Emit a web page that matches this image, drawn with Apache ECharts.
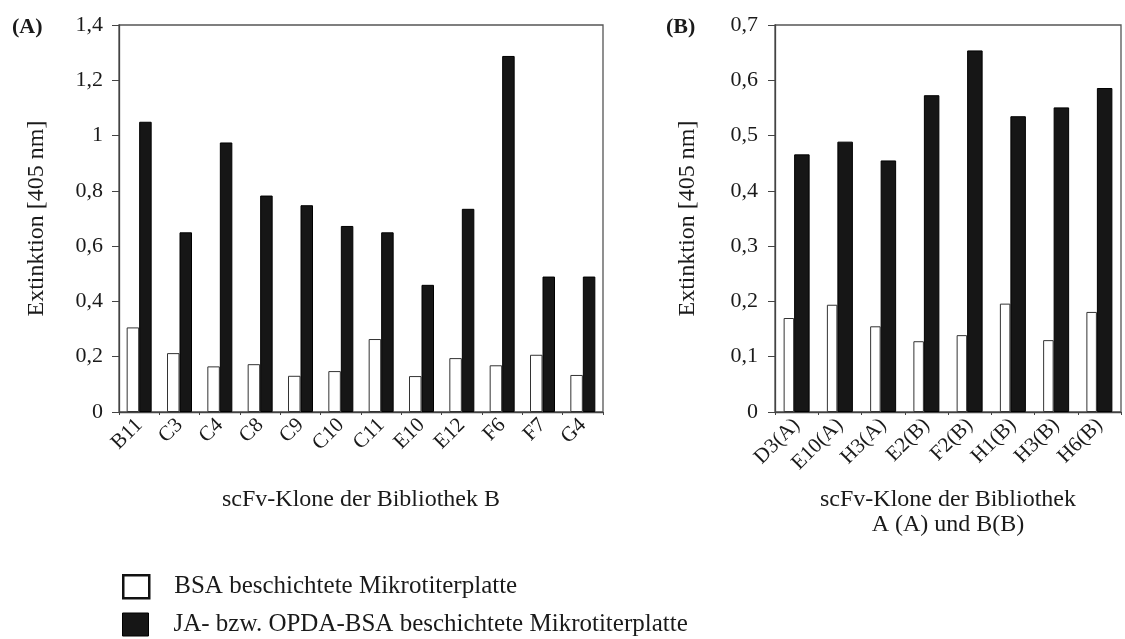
<!DOCTYPE html>
<html>
<head>
<meta charset="utf-8">
<script src="https://cdn.jsdelivr.net/npm/echarts@6/dist/echarts.min.js"></script>
<style>
html,body{margin:0;padding:0;background:#fff;}
#c{width:1125px;height:639px;}
</style>
</head>
<body>
<div id="c"></div>
<script>
// Panel A data
const catsA = ['B11','C3','C4','C8','C9','C10','C11','E10','E12','F6','F7','G4'];
const bsaA  = [0.306,0.213,0.165,0.173,0.131,0.148,0.264,0.130,0.195,0.169,0.207,0.134];
const conjA = [1.05,0.65,0.975,0.783,0.748,0.673,0.65,0.46,0.735,1.288,0.49,0.49];
// Panel B data
const catsB = ['D3(A)','E10(A)','H3(A)','E2(B)','F2(B)','H1(B)','H3(B)','H6(B)'];
const bsaB  = [0.170,0.194,0.155,0.128,0.139,0.196,0.130,0.181];
const conjB = [0.466,0.489,0.455,0.573,0.654,0.535,0.551,0.586];

const seriesNames = ['BSA beschichtete Mikrotiterplatte','JA- bzw. OPDA-BSA beschichtete Mikrotiterplatte'];
const yName = 'Extinktion [405 nm]';
const xNameA = 'scFv-Klone der Bibliothek B';
const xNameB = 'scFv-Klone der Bibliothek\nA (A) und B(B)';

const FONT = "'Liberation Serif','Times New Roman',serif";
const fmt = v => String(+v.toFixed(2)).replace('.', ',');

const chart = echarts.init(document.getElementById('c'), null, {renderer:'canvas'});

function xAxisDef(idx, cats, name){
  return {
    type:'category', gridIndex:idx, data:cats,
    name:name, nameLocation:'middle', nameGap:75,
    nameTextStyle:{fontFamily:FONT, fontSize:24, color:'#1a1a1a', lineHeight:25},
    axisLine:{lineStyle:{color:'#444', width:1.3}},
    axisTick:{show:true, length:3, lineStyle:{color:'#444'}},
    axisLabel:{interval:0, rotate:45, margin:10, fontFamily:FONT, fontSize:21, color:'#1a1a1a'},
    splitLine:{show:false}
  };
}
function yAxisDef(idx, max, interval, gap, margin){
  return {
    type:'value', gridIndex:idx, min:0, max:max, interval:interval,
    name:yName, nameLocation:'middle', nameGap:gap, nameRotate:90,
    nameTextStyle:{fontFamily:FONT, fontSize:24, color:'#1a1a1a'},
    axisLine:{show:true, lineStyle:{color:'#444', width:1.3}},
    axisTick:{show:true, length:7, lineStyle:{color:'#444'}},
    axisLabel:{margin:margin, fontFamily:FONT, fontSize:22, color:'#1a1a1a', formatter:fmt},
    splitLine:{show:false}
  };
}
const whiteStyle = {color:'#ffffff', borderColor:'#333', borderWidth:1};
const blackStyle = {color:'#161616', borderColor:'#000', borderWidth:1};

function legendDef(top, item){
  return {
    orient:'vertical', left:117, top:top, itemWidth:26, itemHeight:23,
    icon:'rect', selectedMode:false,
    textStyle:{fontFamily:FONT, fontSize:25, color:'#1a1a1a', padding:[0,0,0,20]},
    data:[item]
  };
}

chart.setOption({
  animation:false,
  backgroundColor:'#fff',
  grid:[
    {left:119, top:25, width:484, height:387, show:true, borderColor:'#555', borderWidth:1.3, backgroundColor:'transparent'},
    {left:775, top:25, width:346, height:387, show:true, borderColor:'#555', borderWidth:1.3, backgroundColor:'transparent'}
  ],
  xAxis:[xAxisDef(0, catsA, xNameA), xAxisDef(1, catsB, xNameB)],
  yAxis:[yAxisDef(0, 1.4, 0.2, 70, 16), yAxisDef(1, 0.7, 0.1, 75, 17)],
  legend:[
    legendDef(569, {name:seriesNames[0], itemStyle:{color:'#fff', borderColor:'#111', borderWidth:2.5}}),
    legendDef(607, {name:seriesNames[1], itemStyle:{color:'#161616', borderColor:'#000', borderWidth:1}})
  ],
  graphic:[
    {type:'text', left:12, top:16, style:{text:'(A)', font:"bold 22px "+FONT, fill:'#1a1a1a'}},
    {type:'text', left:666, top:16, style:{text:'(B)', font:"bold 22px "+FONT, fill:'#1a1a1a'}}
  ],
  series:[
    {name:seriesNames[0], type:'bar', xAxisIndex:0, yAxisIndex:0, data:bsaA, barWidth:12.5, barGap:'0%', itemStyle:whiteStyle},
    {name:seriesNames[1], type:'bar', xAxisIndex:0, yAxisIndex:0, data:conjA, barWidth:12.5, barGap:'0%', itemStyle:blackStyle},
    {name:seriesNames[0], type:'bar', xAxisIndex:1, yAxisIndex:1, data:bsaB, barWidth:10.5, barGap:'0%', itemStyle:whiteStyle},
    {name:seriesNames[1], type:'bar', xAxisIndex:1, yAxisIndex:1, data:conjB, barWidth:15.5, barGap:'0%', itemStyle:blackStyle}
  ]
});
</script>
</body>
</html>
